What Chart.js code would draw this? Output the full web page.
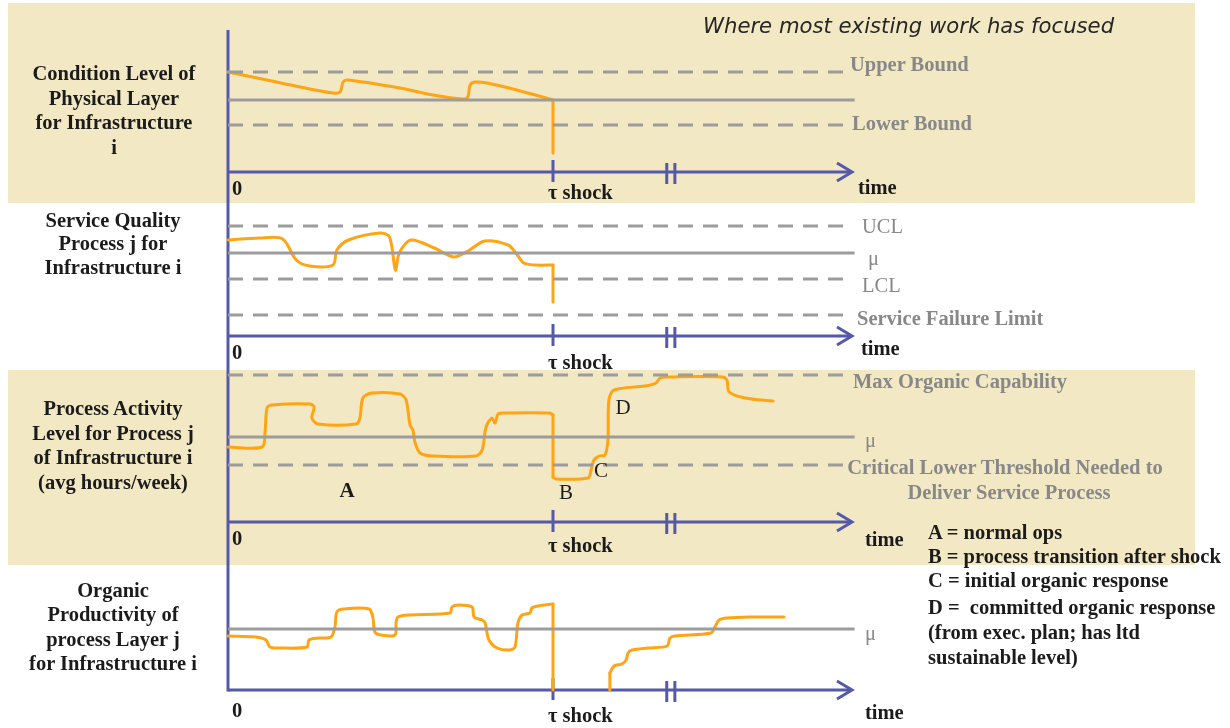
<!DOCTYPE html>
<html><head><meta charset="utf-8">
<script src="https://cdn.jsdelivr.net/npm/chart.js@4.4.1/dist/chart.umd.min.js"></script>
<style>
html,body{margin:0;padding:0;background:#fff;}
#wrap{position:relative;width:1230px;height:728px;overflow:hidden;background:#fff;}
.band{position:absolute;background:#F2E8C3;}
canvas{position:absolute;left:0;}
.t{position:absolute;white-space:pre;font-family:"Liberation Serif","Times New Roman",serif;font-weight:bold;font-size:20.5px;color:#1b1b1b;line-height:1;transform:translateY(-50%);z-index:5;}
.c{transform:translate(-50%,-50%);}
.g{color:#888888;}
.n{font-weight:normal;}
.L{font-size:21px;}
#title{position:absolute;left:703px;top:25px;transform:translateY(-50%);font-family:"DejaVu Sans",Verdana,sans-serif;font-style:italic;font-size:21.2px;color:#262626;white-space:nowrap;z-index:5;}
</style></head>
<body><div id="wrap">
<div class="band" style="left:8px;top:3px;width:1187px;height:200px"></div>
<div class="band" style="left:8px;top:370px;width:1187px;height:195px"></div>
<canvas id="c1" width="1230" height="203" style="top:0px"></canvas>
<canvas id="c2" width="1230" height="167" style="top:203px"></canvas>
<canvas id="c3" width="1230" height="195" style="top:370px"></canvas>
<canvas id="c4" width="1230" height="163" style="top:565px"></canvas>
<div id="title">Where most existing work has focused</div>
</div>
<script>
// ---------- DATA (time units: shock = 10; level units per panel) ----------
const shockTime = 10;
const breakTimes = [13.5, 13.75];
const arrowEndTime = 19.2;
const dashEndTime = 18.95;
const meanEndTime = 19.28;

// Panel 1: condition level of physical layer
const p1Time  = [0, 1.2, 2.22, 3.23, 3.45, 3.54, 3.69, 5.29, 6.31, 7.23, 7.38, 7.45, 7.6, 7.97, 8.89, 10, 10];
const p1Level = [10.0, 9.2, 8.5, 7.9, 8.0, 9.0, 9.2, 8.4, 7.7, 7.3, 7.5, 8.7, 9.0, 8.9, 8.2, 7.2, 1.9];
const p1Bounds = [10.0, 4.7];      // upper, lower (dashed)
const p1Mean = 7.2;
const p1AxisTop = 14.2;

// Panel 2: service quality
const p2Time  = [0, 0.96, 1.68, 2.10, 2.51, 3.23, 3.35, 3.71, 4.67, 4.97, 5.15, 5.27, 5.63, 6.35, 6.95, 7.43, 7.90, 8.62, 8.86, 9.10, 9.46, 10, 10];
const p2Level = [9.6, 9.8, 9.7, 7.6, 7.0, 7.1, 8.6, 9.6, 10.3, 9.9, 6.6, 8.3, 9.6, 8.8, 7.9, 8.6, 9.5, 9.1, 8.3, 7.3, 7.1, 7.1, 3.4];
const p2Limits = [11.0, 5.7, 2.1]; // UCL, LCL, service failure limit
const p2Mean = 8.3;

// Panel 3: process activity level
const p3Time  = [0, 1.05, 1.14, 1.2, 1.35, 2.52, 2.65, 2.58, 2.77, 3.94, 4.06, 4.15, 4.43, 5.29, 5.48, 5.6, 5.69, 5.75, 5.91, 6.28, 7.63, 7.82, 7.94, 8.12, 8.22, 8.31, 8.52, 9.9, 10, 10, 10.09, 11.08, 11.17, 11.26, 11.42, 11.6, 11.69, 11.72, 11.88, 12.83, 13.17, 13.29, 13.48, 15.2, 15.35, 15.42, 15.91, 16.77];
const p3Level = [7.5, 7.5, 9.0, 11.4, 11.7, 11.8, 11.5, 10.4, 9.8, 9.8, 10.4, 12.4, 12.9, 12.8, 12.2, 9.7, 9.2, 8.0, 6.9, 6.6, 6.6, 7.2, 9.5, 10.4, 9.9, 10.8, 10.9, 10.9, 10.7, 4.5, 4.3, 4.4, 5.2, 6.2, 6.6, 6.7, 8.2, 12.2, 13.2, 13.6, 13.9, 14.4, 14.5, 14.5, 14.2, 13.0, 12.4, 12.1];
const p3Limits = [14.7, 5.7];      // max organic capability, critical lower threshold
const p3Mean = 8.5;

// Panel 4: organic productivity
const p4Time  = [0, 0.86, 1.17, 1.29, 1.57, 2.43, 2.49, 2.8, 3.17, 3.29, 3.35, 3.54, 4.34, 4.46, 4.52, 4.71, 5.14, 5.17, 5.23, 5.6, 6.83, 6.89, 7.08, 7.51, 7.57, 7.82, 7.91, 8.03, 8.28, 8.65, 8.83, 8.92, 9.05, 9.29, 9.35, 9.54, 10, 10];
const p4Level = [5.4, 5.3, 5.0, 4.3, 4.2, 4.3, 5.0, 5.2, 5.3, 6.3, 7.8, 8.1, 8.1, 7.2, 5.8, 5.5, 5.5, 6.7, 7.3, 7.5, 7.7, 8.3, 8.5, 8.3, 7.3, 7.0, 6.7, 5.0, 4.2, 4.0, 4.3, 6.7, 7.5, 7.7, 8.2, 8.4, 8.6, 0];
const p4RecoveryTime  = [11.75, 11.75, 11.88, 12.12, 12.25, 12.31, 12.43, 12.92, 13.51, 13.6, 13.75, 14.86, 14.98, 15.11, 15.35, 16.06, 17.11];
const p4RecoveryLevel = [0, 1.7, 2.4, 2.6, 3.0, 3.7, 4.0, 4.2, 4.4, 5.2, 5.4, 5.7, 6.3, 7.0, 7.2, 7.3, 7.3];
const p4Mean = 6.1;

// ---------- TEXT ----------
const texts = [
  // left panel labels
  ['Condition Level of',114,73,'c'],['Physical Layer',114,98,'c'],['for Infrastructure',114,122,'c'],['i',114,147,'c'],
  ['Service Quality',113,220,'c'],['Process j for',113,243,'c'],['Infrastructure i',113,267,'c'],
  ['Process Activity',113,408,'c'],['Level for Process j',113,433,'c'],['of Infrastructure i',113,457,'c'],['(avg hours/week)',113,482,'c'],
  ['Organic',113,590,'c'],['Productivity of',113,614,'c'],['process Layer j',113,639,'c'],['for Infrastructure i',113,663,'c'],
  // reference labels
  ['Upper Bound',850,64,'g'],['Lower Bound',852,123,'g'],
  ['UCL',862,226,'g n'],['\u03bc',868,258,'g n'],['LCL',862,285,'g n'],['Service Failure Limit',857,318,'g'],
  ['Max Organic Capability',853,381,'g'],['\u03bc',865,440,'g n'],
  ['Critical Lower Threshold Needed to',1005,467,'g c'],['Deliver Service Process',1009,492,'g c'],
  ['\u03bc',865,633,'g n'],
  // axis labels
  ['0',232,188,''],['\u03c4 shock',548,192,''],['time',858,187,''],
  ['0',232,352,''],['\u03c4 shock',548,362,''],['time',861,348,''],
  ['0',232,538,''],['\u03c4 shock',548,545,''],['time',865,539,''],
  ['0',232,710,''],['\u03c4 shock',548,715,''],['time',865,712,''],
  // letters
  ['A',347,490,'c L'],['B',566,492,'c n L'],['C',601,470,'c n L'],['D',623,407,'c n L'],
  // legend
  ['A = normal ops',928,532,''],['B = process transition after shock',928,556,''],
  ['C = initial organic response',928,580,''],['D =  committed organic response',928,607,''],
  ['(from exec. plan; has ltd',928,632,''],['sustainable level)',928,657,'']
];
const wrap = document.getElementById('wrap');
texts.forEach(([s,x,y,cls])=>{
  const d=document.createElement('div'); d.className='t '+cls; d.textContent=s;
  d.style.left=x+'px'; d.style.top=y+'px'; wrap.appendChild(d);
});

// ---------- CHARTS ----------
const BLUE='#5459A8', ORANGE='#FFA414', GRAY='#9C9C9C';
const pts=(xs,ys)=>xs.map((x,i)=>({x, y: ys[i]}));
const lineStyle={borderColor:ORANGE,borderWidth:3,pointRadius:0,fill:false,clip:false,borderCapStyle:'round',borderJoinStyle:'round'};
// smooth runs with tension; vertical jumps (same time twice) drawn straight
function curve(xs,ys){
  const p=pts(xs,ys), out=[]; let run=[p[0]];
  for(let i=1;i<p.length;i++){
    if(p[i].x===p[i-1].x){
      if(run.length>1) out.push({...lineStyle,data:run,tension:0.3});
      out.push({...lineStyle,data:[p[i-1],p[i]],tension:0});
      run=[p[i]];
    } else run.push(p[i]);
  }
  if(run.length>1) out.push({...lineStyle,data:run,tension:0.3});
  return out;
}
const dashed=(lv)=>({data:[{x:0,y:lv},{x:dashEndTime,y:lv}],borderColor:GRAY,borderWidth:3,borderDash:[15,10],pointRadius:0,fill:false,clip:false});
const solid=(lv)=>({data:[{x:0,y:lv},{x:meanEndTime,y:lv}],borderColor:GRAY,borderWidth:3,pointRadius:0,fill:false,clip:false});

const diagramAxes={
  id:'diagramAxes',
  beforeDatasetsDraw(chart,args,o){
    const {ctx}=chart, xs=chart.scales.x, ys=chart.scales.y;
    const x0=xs.getPixelForValue(0), ya=ys.getPixelForValue(0);
    const top=(o.vTop!=null)?ys.getPixelForValue(o.vTop):0;
    const bot=o.vToAxis?ya+1.5:chart.height;
    ctx.save(); ctx.strokeStyle=BLUE; ctx.lineWidth=3; ctx.lineCap='butt'; ctx.lineJoin='miter';
    const ln=(a,b,c,d)=>{ctx.beginPath();ctx.moveTo(a,b);ctx.lineTo(c,d);ctx.stroke();};
    ln(x0,top,x0,bot);
    const xe=xs.getPixelForValue(arrowEndTime);
    ln(x0,ya,xe-1,ya);
    ctx.beginPath();ctx.moveTo(xe-15,ya-9);ctx.lineTo(xe,ya);ctx.lineTo(xe-15,ya+9);ctx.stroke();
    const xsck=xs.getPixelForValue(shockTime);
    ln(xsck,ya-12,xsck,ya+10);
    breakTimes.forEach(b=>{const xb=xs.getPixelForValue(b); ln(xb,ya-9,xb,ya+12);});
    ctx.restore();
  }
};

function makeChart(id,datasets,bottomPad,yMax,axisOpts){
  return new Chart(document.getElementById(id),{
    type:'line',
    data:{datasets},
    options:{
      responsive:false,animation:false,events:[],
      layout:{padding:{left:228,right:352,top:0,bottom:bottomPad}},
      scales:{x:{type:'linear',min:0,max:20,display:false},y:{min:0,max:yMax,display:false}},
      plugins:{legend:{display:false},tooltip:{enabled:false},diagramAxes:axisOpts}
    },
    plugins:[diagramAxes]
  });
}

makeChart('c1',[dashed(p1Bounds[0]),solid(p1Mean),dashed(p1Bounds[1]),...curve(p1Time,p1Level)],31,17.2,{vTop:p1AxisTop});
makeChart('c2',[dashed(p2Limits[0]),solid(p2Mean),dashed(p2Limits[1]),dashed(p2Limits[2]),...curve(p2Time,p2Level)],34,13.3,{});
makeChart('c3',[dashed(p3Limits[0]),solid(p3Mean),dashed(p3Limits[1]),...curve(p3Time,p3Level)],43,15.2,{});
makeChart('c4',[solid(p4Mean),...curve(p4Time,p4Level),...curve(p4RecoveryTime,p4RecoveryLevel)],38,12.5,{vToAxis:true});
</script>
</body></html>
